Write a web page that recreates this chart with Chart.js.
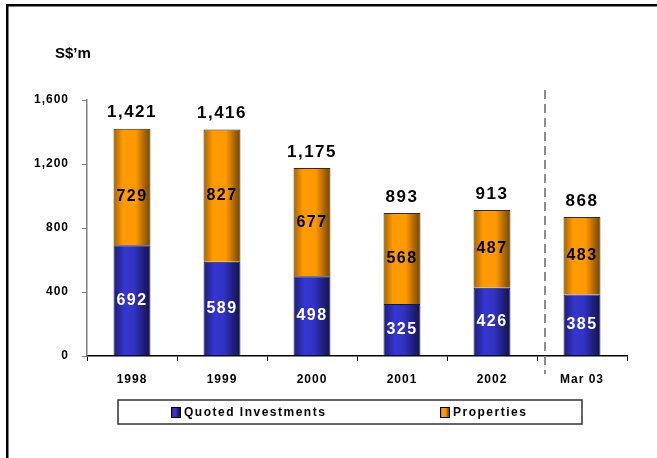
<!DOCTYPE html>
<html>
<head>
<meta charset="utf-8">
<script src="https://cdn.jsdelivr.net/npm/chart.js@4"></script>
<style>
  html, body { margin: 0; padding: 0; background: #ffffff; }
  #wrap { position: relative; width: 657px; height: 458px; }
</style>
</head>
<body>
<div id="wrap"><canvas id="investChart" width="657" height="458"></canvas></div>
<script>
//Chart data.
const categories = ['1998', '1999', '2000', '2001', '2002', 'Mar 03'];
const quoted = [692, 589, 498, 325, 426, 385];
const properties = [729, 827, 677, 568, 487, 483];
const totals = [1421, 1416, 1175, 893, 913, 868];
const yTicks = [0, 400, 800, 1200, 1600];

//Small manual nudge the original used for one orange label (px, down is positive).
const propLabelShift = [10, 0, 0, 0, 0, 0];

const FONT = '"Liberation Sans", Arial, sans-serif';
const BAR_FRACTION = 0.41;

//Cylinder style shading for the bars.
const blueStops = [[0, '#1c1c78'], [0.3, '#3636d0'], [0.55, '#3232c4'], [1, '#121248']];
const orangeStops = [[0, '#a86400'], [0.25, '#ff9a00'], [0.6, '#ff9900'], [1, '#704400']];

function barGradient(context, stops) {
    const chart = context.chart;
    const xs = chart.scales.x;
    if (!xs || context.dataIndex === undefined) return stops[1][1];
    const cx = xs.getPixelForValue(context.dataIndex);
    const half = (xs.width / categories.length) * BAR_FRACTION / 2;
    if (!isFinite(cx) || !isFinite(half) || half <= 0) return stops[1][1];
    const g = chart.ctx.createLinearGradient(cx - half, 0, cx + half, 0);
    stops.forEach(s => g.addColorStop(s[0], s[1]));
    return g;
}

function fmt(v) {
    return v.toLocaleString('en-US');
}

//Everything that is not a bar or an axis: frame, unit label, divider, value labels, legend box.
const decorPlugin = {
    id: 'decor',
    beforeDraw(chart) {
        chart.ctx.letterSpacing = '1px';
    },
    afterDraw(chart) {
        const ctx = chart.ctx;
        const area = chart.chartArea;
        const xs = chart.scales.x;
        ctx.save();

        //Frame (top and left edge only are visible).
        ctx.fillStyle = '#000000';
        ctx.fillRect(6, 4, chart.width, 2.5);
        ctx.fillRect(6, 4, 2.5, chart.height);

        //Unit label.
        ctx.letterSpacing = '0px';
        ctx.font = 'bold 15px ' + FONT;
        ctx.textAlign = 'left';
        ctx.textBaseline = 'middle';
        ctx.fillText("S$\u2019m", 55, 54);

        //Dashed divider before the partial year.
        const last = categories.length - 1;
        const divX = (xs.getPixelForValue(last - 1) + xs.getPixelForValue(last)) / 2 + 8;
        ctx.strokeStyle = '#8c8c8c';
        ctx.lineWidth = 2;
        ctx.setLineDash([9, 5]);
        ctx.beginPath();
        ctx.moveTo(divX, area.top - 10);
        ctx.lineTo(divX, area.bottom + 18);
        ctx.stroke();
        ctx.setLineDash([]);

        //Segment labels and totals.
        ctx.letterSpacing = '1.5px';
        ctx.textAlign = 'center';
        ctx.textBaseline = 'middle';
        const blueMeta = chart.getDatasetMeta(0);
        const orangeMeta = chart.getDatasetMeta(1);
        ctx.font = 'bold 16px ' + FONT;
        blueMeta.data.forEach((bar, i) => {
            ctx.fillStyle = '#ffffff';
            ctx.fillText(fmt(quoted[i]), bar.x, (bar.y + bar.base) / 2);
        });
        orangeMeta.data.forEach((bar, i) => {
            ctx.fillStyle = '#000000';
            ctx.fillText(fmt(properties[i]), bar.x, (bar.y + bar.base) / 2 + propLabelShift[i]);
            ctx.font = 'bold 17px ' + FONT;
            ctx.fillText(fmt(totals[i]), bar.x, bar.y - 16);
            ctx.font = 'bold 16px ' + FONT;
        });

        //Legend box.
        const lx = area.left + 31, ly = 400, lw = 464, lh = 24;
        ctx.strokeStyle = '#333333';
        ctx.lineWidth = 1.5;
        ctx.strokeRect(lx, ly, lw, lh);
        const items = [
            { text: chart.data.datasets[0].label, x: lx + 53, stops: blueStops },
            { text: chart.data.datasets[1].label, x: lx + 322, stops: orangeStops }
        ];
        ctx.font = 'bold 12px ' + FONT;
        ctx.textAlign = 'left';
        ctx.letterSpacing = '1.5px';
        items.forEach(it => {
            const g = ctx.createLinearGradient(it.x, 0, it.x + 9, 0);
            it.stops.forEach(s => g.addColorStop(s[0], s[1]));
            ctx.fillStyle = g;
            ctx.fillRect(it.x, ly + 7, 9, 10);
            ctx.strokeStyle = '#000000';
            ctx.lineWidth = 1;
            ctx.strokeRect(it.x + 0.5, ly + 7.5, 9, 10);
            ctx.fillStyle = '#000000';
            ctx.fillText(it.text, it.x + 13, ly + 12.5);
        });

        ctx.restore();
    }
};

const investChart = new Chart(document.getElementById('investChart'), {
    type: 'bar',
    data: {
        labels: categories,
        datasets: [
            {
                label: 'Quoted Investments',
                data: quoted,
                backgroundColor: c => barGradient(c, blueStops),
                borderColor: '#15154a',
                borderWidth: 1,
                barPercentage: BAR_FRACTION,
                categoryPercentage: 1
            },
            {
                label: 'Properties',
                data: properties,
                backgroundColor: c => barGradient(c, orangeStops),
                borderColor: '#3a2600',
                borderWidth: 1,
                barPercentage: BAR_FRACTION,
                categoryPercentage: 1
            }
        ]
    },
    options: {
        responsive: false,
        animation: false,
        devicePixelRatio: 1,
        layout: { padding: { top: 100, right: 30, left: 0, bottom: 0 } },
        plugins: {
            legend: { display: false },
            title: { display: false },
            tooltip: { enabled: false }
        },
        scales: {
            x: {
                stacked: true,
                afterFit: scale => { scale.height = 102; },
                border: { color: '#000000', width: 1.5 },
                grid: {
                    offset: true,
                    drawOnChartArea: false,
                    drawTicks: true,
                    tickLength: 5,
                    color: '#000000'
                },
                ticks: {
                    color: '#000000',
                    padding: 11,
                    font: { family: FONT, size: 12, weight: 'bold' }
                }
            },
            y: {
                stacked: true,
                min: yTicks[0],
                max: yTicks[yTicks.length - 1],
                afterFit: scale => { scale.width = 87; },
                afterBuildTicks: scale => { scale.ticks = yTicks.map(v => ({ value: v })); },
                border: { color: '#808080', width: 1.5 },
                grid: {
                    drawOnChartArea: false,
                    drawTicks: true,
                    tickLength: 5,
                    color: '#808080'
                },
                ticks: {
                    color: '#000000',
                    padding: 13,
                    font: { family: FONT, size: 12, weight: 'bold' },
                    callback: v => fmt(v)
                }
            }
        }
    },
    plugins: [decorPlugin]
});
</script>
</body>
</html>
